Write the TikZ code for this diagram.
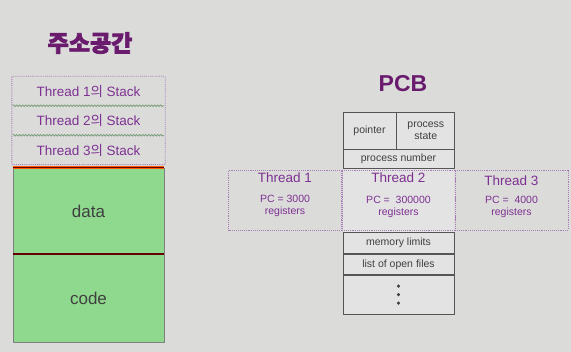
\documentclass[tikz,border=0pt]{standalone}
\usepackage{fontspec}
\setmainfont{Liberation Sans}
\newfontfamily\kr{Noto Sans CJK KR}
\newfontfamily\krtitle{Noto Sans CJK KR}[FakeBold=3]
\usepackage{xcolor}
\usepackage{tikz}
\usetikzlibrary{positioning, calc, decorations.pathmorphing}

\definecolor{bgGray}{HTML}{DBDBDA}
\definecolor{titlePurple}{HTML}{6A1B6E}
\definecolor{txtPurple}{HTML}{7E3192}
\definecolor{dashPurple}{HTML}{A77DB5}
\definecolor{segGreen}{HTML}{8ED98D}
\definecolor{pcbGray}{HTML}{E3E3E3}
\definecolor{lineGray}{HTML}{555555}
\definecolor{waveGreen}{HTML}{7FA07F}

\tikzset{
  titletext/.style={font=\fontsize{23}{25}\selectfont\bfseries, text=titlePurple, inner sep=0pt},
  stackbox/.style={minimum width=153pt, minimum height=29pt, inner sep=0pt,
    font=\fontsize{13.5}{15}\selectfont, text=txtPurple},
  segbox/.style={draw=gray, fill=segGreen, minimum width=151pt, inner sep=0pt,
    font=\fontsize{17}{19}\selectfont, text=black!75},
  pcbcell/.style={draw=lineGray, line width=0.8pt, fill=pcbGray, inner sep=0pt,
    font=\fontsize{10.5}{12.5}\selectfont, text=black!75, align=center},
  threadbox/.style={draw=dashPurple, densely dotted, line width=0.9pt, minimum width=113pt,
    minimum height=60pt, inner sep=0pt},
  threadtitle/.style={font=\fontsize{13.5}{15}\selectfont, text=txtPurple, inner sep=0pt},
  threadtext/.style={font=\fontsize{10.5}{12}\selectfont, text=txtPurple, inner sep=0pt, align=center},
  redline/.style={line width=2.6pt, draw=orange!70!red},
}

\begin{document}
\begin{tikzpicture}[x=1pt, y=-1pt]
    \useasboundingbox[fill=bgGray] (0,0) rectangle (571,352);

    % 주소공간
    \node[titletext] (asTitle) at (90,43) {\krtitle 주소공간};

    % stack 영역
    \node[stackbox] (stack1) at (88.5,91) {Thread 1{\kr 의} Stack};
    \node[stackbox] (stack2) at (88.5,120.5) {Thread 2{\kr 의} Stack};
    \node[stackbox] (stack3) at (88.5,150) {Thread 3{\kr 의} Stack};
    \draw[dashPurple, densely dotted, line width=0.9pt, rounded corners=1pt]
        (stack1.north west) rectangle (stack3.south east);
    \draw[waveGreen, line width=0.8pt, decorate,
        decoration={snake, amplitude=0.8pt, segment length=3pt}]
        ($(stack1.south west)+(1,0)$) -- ($(stack1.south east)+(-1,0)$);
    \draw[waveGreen, line width=0.8pt, decorate,
        decoration={snake, amplitude=0.8pt, segment length=3pt}]
        ($(stack2.south west)+(1,0)$) -- ($(stack2.south east)+(-1,0)$);

    % data / code
    \node[segbox, minimum height=86pt] (data) at (88.5,211) {data};
    \node[segbox, minimum height=88pt, below=0pt of data] (code) {code};
    \draw[redline] (data.north west) -- (data.north east);
    \draw[redline] (data.south west) -- (data.south east);
    \draw[line width=1.4pt, draw=red!40!black] (data.north west) -- (data.north east);
    \draw[line width=1.4pt, draw=red!40!black] (data.south west) -- (data.south east);

    % PCB
    \node[titletext] (pcbTitle) at (403,84) {PCB};
    \node[pcbcell, minimum width=53pt, minimum height=37pt] (pointer) at (369.5,130.5) {pointer};
    \node[pcbcell, minimum width=58pt, minimum height=37pt, right=0pt of pointer] (pstate) {process\\state};
    \node[pcbcell, minimum width=111pt, minimum height=19pt] (pnum) at (398.5,158.5) {process number};
    \node[pcbcell, draw=none, minimum width=111pt, minimum height=63pt, below=0pt of pnum] (pmid) {};
    \node[pcbcell, minimum width=111pt, minimum height=21pt, below=0pt of pmid] (memlim) {memory limits};
    \node[pcbcell, minimum width=111pt, minimum height=20pt, below=0pt of memlim] (files) {list of open files};
    \node[pcbcell, minimum width=111pt, minimum height=39pt, below=0pt of files] (rest) {};
    \foreach \dy in {-8.5,0,8.5}
        \fill[black!75] ($(rest.center)+(0,\dy)$) circle (1.7pt);

    % thread
    \node[threadbox] (th1) at (285,200) {};
    \node[threadbox] (th2) at (398.5,200) {};
    \node[threadbox] (th3) at (511.5,200) {};
    \node[threadtitle] (th1Title) at (285,178) {Thread 1};
    \node[threadtext] (th1Reg) at (285,206) {PC = 3000\\registers};
    \node[threadtitle] (th2Title) at (398.5,178) {Thread 2};
    \node[threadtext] (th2Reg) at (398.5,207) {PC = \ 300000\\registers};
    \node[threadtitle] (th3Title) at (511.5,180.5) {Thread 3};
    \node[threadtext] (th3Reg) at (511.5,207) {PC = \ 4000\\registers};
\end{tikzpicture}
\end{document}
